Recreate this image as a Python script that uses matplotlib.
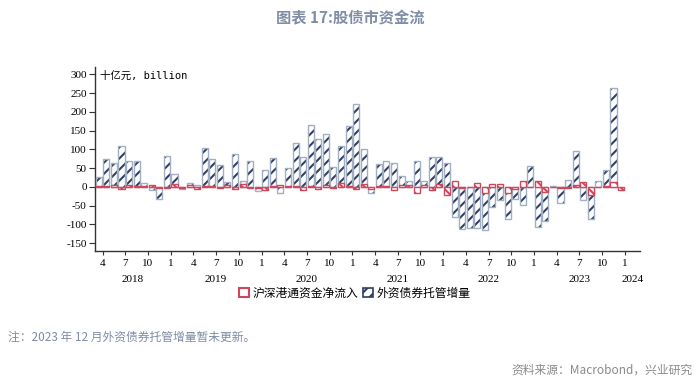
import numpy as np
import matplotlib
matplotlib.use("Agg")
import matplotlib.pyplot as plt
from matplotlib.patches import Patch
from matplotlib.transforms import blended_transform_factory

plt.rcParams['font.family'] = ['Noto Sans CJK SC', 'DejaVu Sans']
plt.rcParams['hatch.linewidth'] = 1.5

# Months Mar 2018 .. Dec 2023
month_labels = ["4", "7", "10", "1"]
years = ["2018", "2019", "2020", "2021", "2022", "2023", "2024"]

bond_custody = [26, 74, 63, 109, 70, 70, 10, -8, -33, 82,
                34, -5, 10, 5, 103, 74, 59, 14, 87, 16, 69, -10,
                45, 77, -17, 50, 117, 80, 166, 129, 142, 53, 108, 162,
                222, 100, -15, 60, 69, 65, 30, 17, 69, 16, 80, 80,
                65, -81, -113, -110, -110, -115, -54, -35, -85, -33, -49, 57,
                -106, -92, 2, -42, 19, 95, -36, -85, 17, 45, 263, np.nan]

connect_flow = [2, 3, 4, -6, 4, 2, 2, 4, -2, -3,
                8, -2, 4, -5, 3, 3, -2, 5, -5, 7, -4, -2,
                -7, 3, 5, 3, 3, -8, 3, -6, 5, -4, 10, 2,
                -5, 8, -5, 3, 3, -8, 4, 4, -17, 5, -7, 8,
                -22, 15, -3, 0, 10, -17, 8, 8, -15, -5, 15, 0,
                17, -13, 0, -3, -3, 5, 12, -21, 0, 3, 12, -9]

series_names = ["沪深港通资金净流入", "外资债券托管增量"]

n = len(bond_custody)
x = np.arange(n)
blue_edge = '#a2afc3'
navy = '#2f3f62'
red = '#d2465b'

fig = plt.figure(figsize=(7, 3.87), dpi=100)
ax = fig.add_axes([95/700, 1-251/387, 545/700, 184/387])

w = 0.8
b = np.array(bond_custody, dtype=float)
r = np.array(connect_flow, dtype=float)
ax.bar(x, b, width=w, facecolor='white', edgecolor=navy, hatch='///', linewidth=0, zorder=2)
ax.bar(x, b, width=w, facecolor='none', edgecolor=blue_edge, linewidth=1.0, zorder=3)
ax.bar(x, r, width=w, facecolor='white', edgecolor=red, hatch='\\\\\\', linewidth=0, zorder=4)
ax.bar(x, r, width=w, facecolor='none', edgecolor=red, linewidth=1.0, zorder=5)

ax.set_xlim(-0.5, 71.5)
ax.set_ylim(-171, 320)
ax.set_yticks(np.arange(-150, 301, 50))
ax.set_yticklabels([str(v) for v in range(-150, 301, 50)], family='Liberation Serif', fontsize=8)

xt = np.arange(0.5, 70, 3)
ax.set_xticks(xt)
ax.set_xticklabels([month_labels[k % 4] for k in range(len(xt))], family='Liberation Serif', fontsize=8)
ax.tick_params(axis='x', length=3, pad=3, color='#333333')
ax.tick_params(axis='y', length=4, pad=2, color='#333333')

for s in ['top', 'right']:
    ax.spines[s].set_visible(False)
for s in ['left', 'bottom']:
    ax.spines[s].set_color('#333333')
    ax.spines[s].set_linewidth(1.0)

trans = blended_transform_factory(ax.transData, ax.transAxes)
year_bounds = [-0.5, 9.5, 21.5, 33.5, 45.5, 57.5, 69.5, 71.5]
for k, yl in enumerate(years):
    cx = (year_bounds[k] + year_bounds[k+1]) / 2
    ax.text(cx, -29/184, yl, transform=trans, ha='center', va='center',
            family='Liberation Serif', fontsize=8)

ax.text(0.01, 0.955, "十亿元, billion", transform=ax.transAxes, ha='left', va='center',
        family=['DejaVu Sans Mono', 'Noto Sans CJK SC'], fontsize=7.5)

handles = [Patch(facecolor='white', edgecolor=red, linewidth=1.5),
           Patch(facecolor='white', edgecolor=navy, hatch='///', linewidth=1.2)]
fig.legend(handles, series_names, loc='center', bbox_to_anchor=(355/700, 1-293/387),
           ncol=2, frameon=False, fontsize=8.5, handlelength=0.8, handleheight=0.8,
           columnspacing=0.4, handletextpad=0.35)

fig.text(0.5, 1-18/387, "图表 17:股债市资金流", ha='center', va='center',
         fontsize=11, fontweight='bold', color='#7f8ea6')
fig.text(8/700, 1-337/387, "注：2023 年 12 月外资债券托管增量暂未更新。", ha='left', va='center',
         fontsize=8.5, color='#7d8ba3')
fig.text(693/700, 1-370/387, "资料来源：Macrobond，兴业研究", ha='right', va='center',
         fontsize=8.5, color='#8a8a8a')

fig.savefig("out.png", dpi=100)
